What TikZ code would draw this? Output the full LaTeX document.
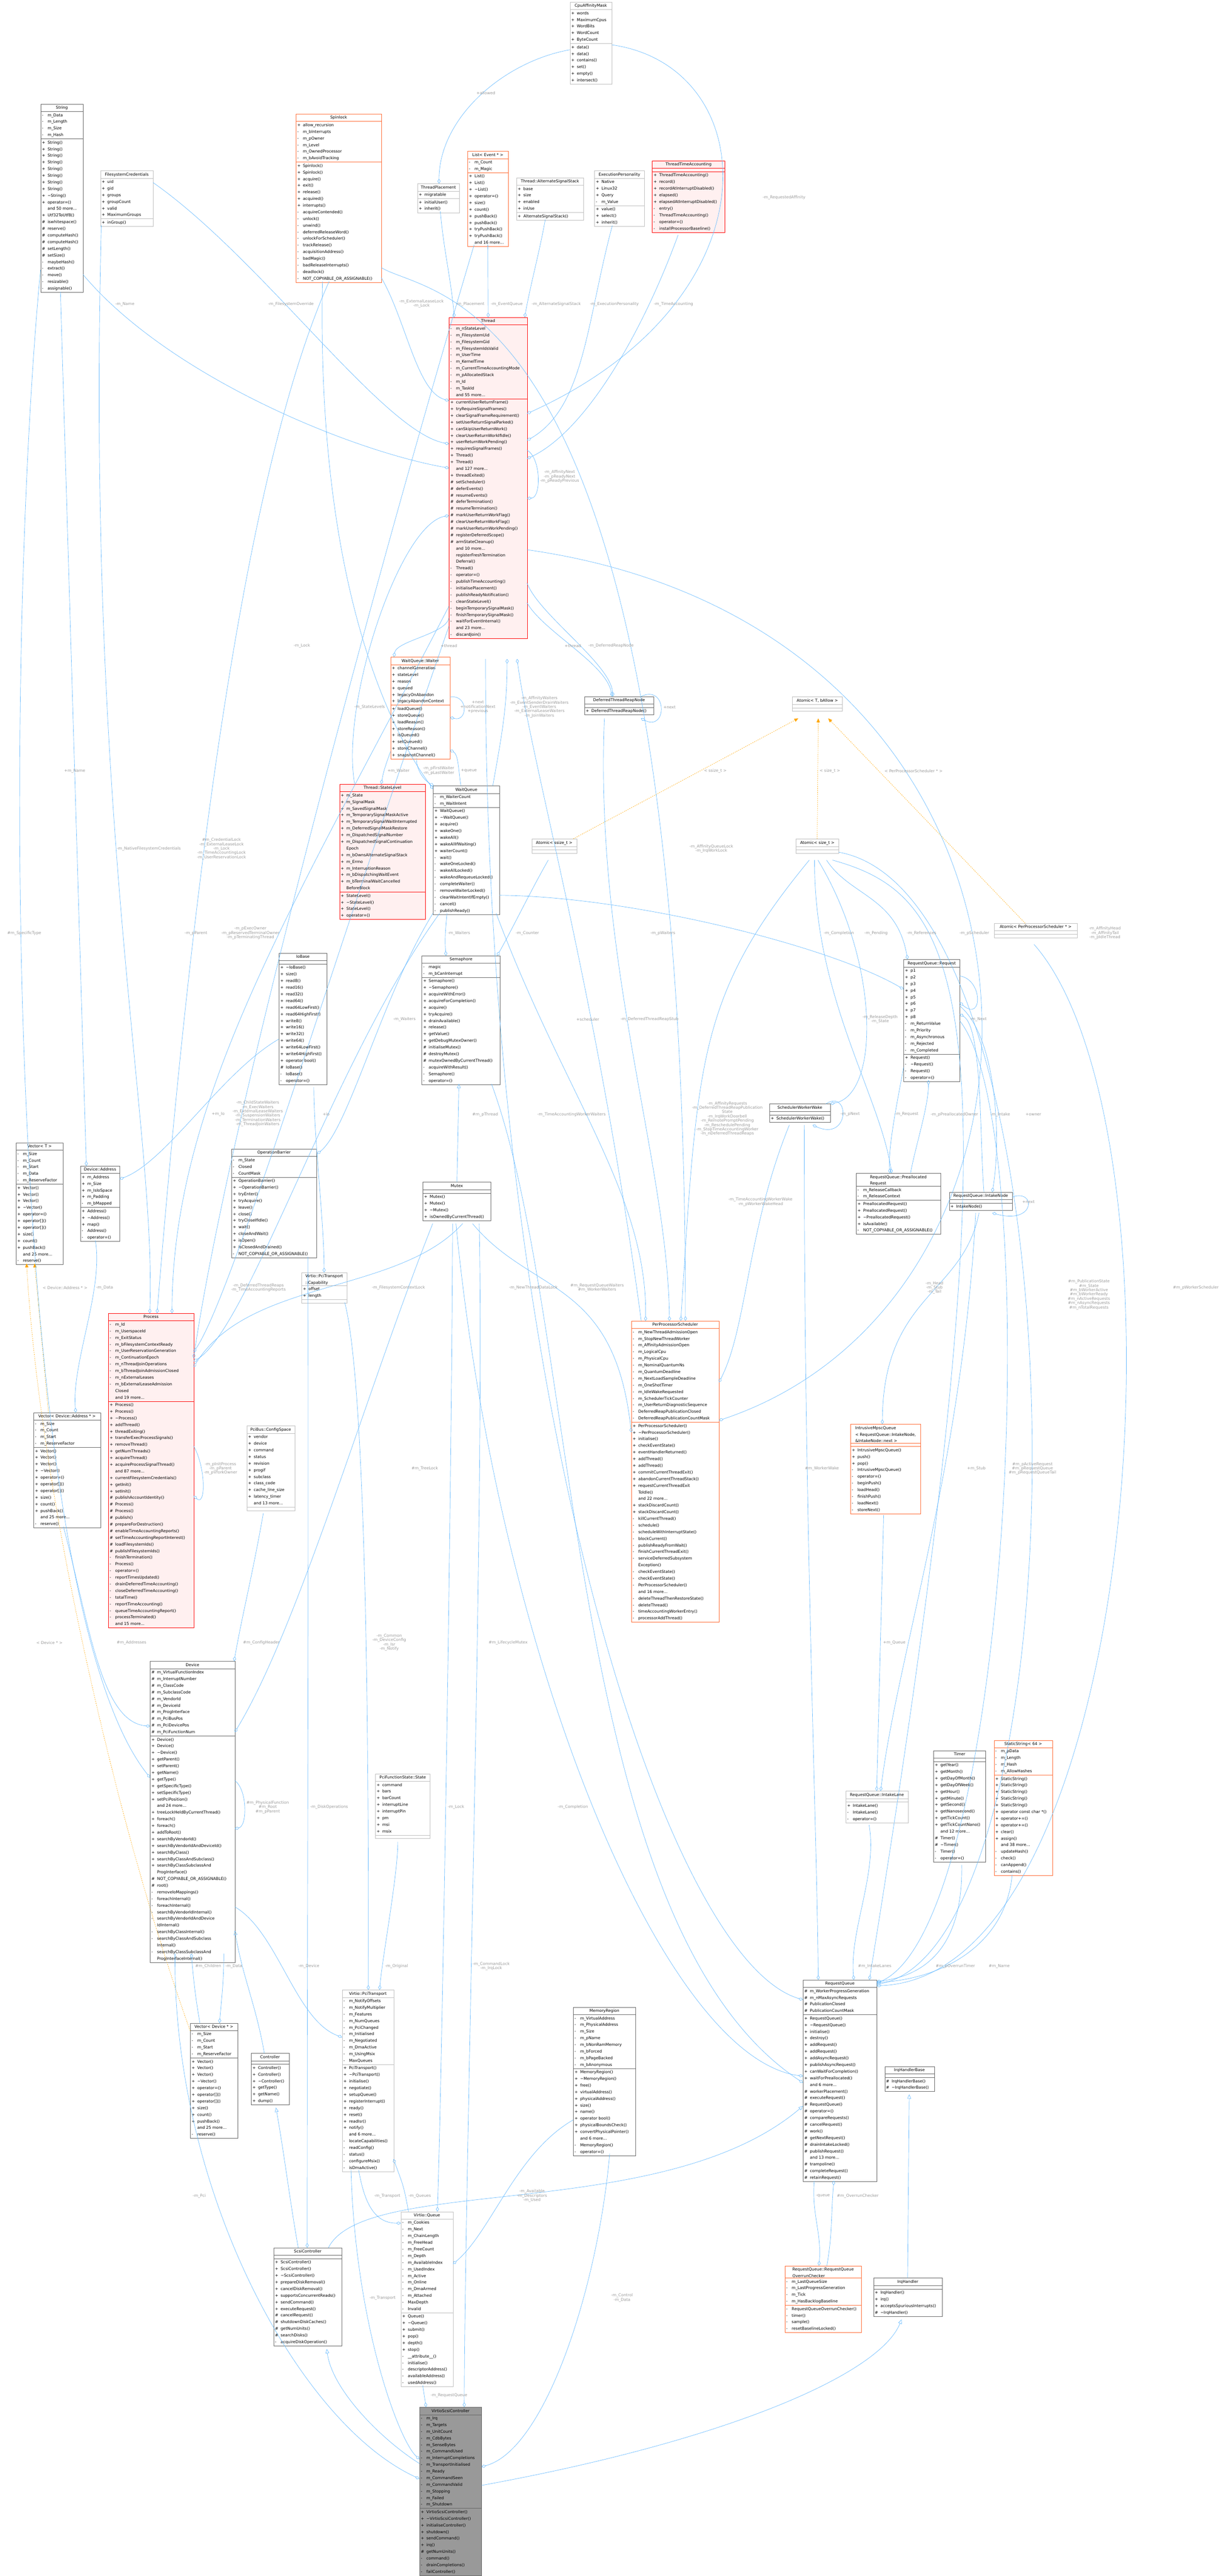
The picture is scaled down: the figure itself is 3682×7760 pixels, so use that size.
\documentclass[tikz,border=0pt]{standalone}
\usepackage{fontspec}
\setmainfont{DejaVu Sans}
\usepackage{tikz}
\usetikzlibrary{shapes.multipart}
\usetikzlibrary{arrows.meta}
\usetikzlibrary{calc}
\definecolor{edgeblue}{HTML}{63B8FF}
\definecolor{tmplorange}{HTML}{FFA500}
\definecolor{lblgray}{HTML}{9A9A9A}
\definecolor{boxgray}{HTML}{666666}
\definecolor{boxlight}{HTML}{BFBFBF}
\definecolor{boxorange}{HTML}{FF6A33}
\definecolor{boxred}{HTML}{FF0000}
\definecolor{boxpink}{HTML}{FFF0F0}
\definecolor{rootgray}{HTML}{999999}
\newcommand{\dxfont}{\fontsize{12}{20}\selectfont}
\newcommand{\lbfont}{\fontsize{12}{13}\selectfont}
\newcommand{\Mp}{\strut\makebox[17pt][l]{+}}
\newcommand{\Mm}{\strut\makebox[17pt][l]{-}}
\newcommand{\Mh}{\strut\makebox[17pt][l]{\#}}
\newcommand{\Mn}{\strut\makebox[17pt][l]{}}
\newcommand{\Me}{\rule{0pt}{8pt}}
\newcommand{\tl}{\textasciitilde}

\begin{document}
\catcode`\_=12
\begin{tikzpicture}
[
x=1pt, y=-1pt,
cls/.style={rectangle split, rectangle split parts=3, draw=boxgray, fill=white,
            anchor=north west, inner xsep=4pt, inner ysep=1pt, font=\dxfont,
            align=left, rectangle split part align={center,left,left}},
cls-light/.style={cls, draw=boxlight},
cls-orange/.style={cls, draw=boxorange},
cls-red/.style={cls, draw=boxred, fill=boxpink},
cls-root/.style={cls, fill=rootgray},
has/.style={draw=edgeblue, line width=1pt, -{Diamond[open,length=14pt,width=9pt]}},
isa/.style={draw=edgeblue, line width=1pt, -{Triangle[open,length=13pt,width=11pt]}},
tmpl/.style={draw=tmplorange, line width=1pt, dashed, -{Triangle[length=12pt,width=10pt]}},
lbl/.style={text=lblgray, font=\lbfont, align=center, inner sep=0pt},
]
\useasboundingbox (0,0) rectangle (3682,7760);

% classes, top band
\node (cpu) [cls-light, minimum width=126pt] at (1716,6) {\strut CpuAffinityMask
  \nodepart{two}\Mp words\\\Mp MaximumCpus\\\Mp WordBits\\\Mp WordCount\\\Mp ByteCount
  \nodepart{three}\Mp data()\\\Mp data()\\\Mp contains()\\\Mp set()\\\Mp empty()\\\Mp intersect()};
\node (string) [cls, minimum width=128pt] at (122,313) {\strut String
  \nodepart{two}\Mm m_Data\\\Mm m_Length\\\Mm m_Size\\\Mm m_Hash
  \nodepart{three}\Mp String()\\\Mp String()\\\Mp String()\\\Mp String()\\\Mp String()\\\Mp String()\\\Mp String()\\\Mp String()\\\Mp \tl String()\\\Mp operator=()\\\Mn and 50 more...\\\Mp Utf32ToUtf8()\\\Mh iswhitespace()\\\Mh reserve()\\\Mh computeHash()\\\Mh computeHash()\\\Mh setLength()\\\Mh setSize()\\\Mm maybeHash()\\\Mm extract()\\\Mm move()\\\Mm resizable()\\\Mm assignable()};
\node (fscred) [cls-light, minimum width=159pt] at (302,514) {\strut FilesystemCredentials
  \nodepart{two}\Mp uid\\\Mp gid\\\Mp groups\\\Mp groupCount\\\Mp valid\\\Mp MaximumGroups
  \nodepart{three}\Mp inGroup()};
\node (spin) [cls-orange, minimum width=257pt] at (891,343) {\strut Spinlock
  \nodepart{two}\Mp allow_recursion\\\Mm m_bInterrupts\\\Mm m_pOwner\\\Mm m_Level\\\Mm m_OwnedProcessor\\\Mm m_bAvoidTracking
  \nodepart{three}\Mp Spinlock()\\\Mp Spinlock()\\\Mp acquire()\\\Mp exit()\\\Mp release()\\\Mp acquired()\\\Mp interrupts()\\\Mm acquireContended()\\\Mm unlock()\\\Mm unwind()\\\Mm deferredReleaseWord()\\\Mm unlockForScheduler()\\\Mm trackRelease()\\\Mm acquisitionAddress()\\\Mm badMagic()\\\Mm badReleaseInterrupts()\\\Mm deadlock()\\\Mm NOT_COPYABLE_OR_ASSIGNABLE()};
\node (place) [cls-light, minimum width=126pt] at (1257,553) {\strut ThreadPlacement
  \nodepart{two}\Mp migratable
  \nodepart{three}\Mp initialUser()\\\Mp inherit()};
\node (listev) [cls-orange, minimum width=122pt] at (1408,455) {\strut List< Event * >
  \nodepart{two}\Mm m_Count\\\Mm m_Magic
  \nodepart{three}\Mp List()\\\Mp List()\\\Mp \tl List()\\\Mp operator=()\\\Mp size()\\\Mp count()\\\Mp pushBack()\\\Mp pushBack()\\\Mp tryPushBack()\\\Mp tryPushBack()\\\Mn and 16 more...};
\node (altstack) [cls-light, minimum width=202pt] at (1555,535) {\strut Thread::AlternateSignalStack
  \nodepart{two}\Mp base\\\Mp size\\\Mp enabled\\\Mp inUse
  \nodepart{three}\Mp AlternateSignalStack()};
\node (execpers) [cls-light, minimum width=150pt] at (1790,514) {\strut ExecutionPersonality
  \nodepart{two}\Mp Native\\\Mp Linux32\\\Mp Query\\\Mm m_Value
  \nodepart{three}\Mp value()\\\Mp select()\\\Mp inherit()};
\node (timeacc) [cls-red, minimum width=218pt] at (1964,484) {\strut ThreadTimeAccounting
  \nodepart{two}\Me
  \nodepart{three}\Mp ThreadTimeAccounting()\\\Mp record()\\\Mp recordAtInterruptDisabled()\\\Mp elapsed()\\\Mp elapsedAtInterruptDisabled()\\\Mm entry()\\\Mm ThreadTimeAccounting()\\\Mm operator=()\\\Mm installProcessorBaseline()};
\node (thread) [cls-red, minimum width=235pt] at (1352,956) {\strut Thread
  \nodepart{two}\Mm m_nStateLevel\\\Mm m_FilesystemUid\\\Mm m_FilesystemGid\\\Mm m_FilesystemIdsValid\\\Mm m_UserTime\\\Mm m_KernelTime\\\Mm m_CurrentTimeAccountingMode\\\Mm m_pAllocatedStack\\\Mm m_Id\\\Mm m_TaskId\\\Mn and 55 more...
  \nodepart{three}\Mp currentUserReturnFrame()\\\Mp tryRequireSignalFrames()\\\Mp clearSignalFrameRequirement()\\\Mp setUserReturnSignalParked()\\\Mp canSkipUserReturnWork()\\\Mp clearUserReturnWorkIfIdle()\\\Mp userReturnWorkPending()\\\Mp requiresSignalFrames()\\\Mp Thread()\\\Mp Thread()\\\Mn and 127 more...\\\Mp threadExited()\\\Mh setScheduler()\\\Mh deferEvents()\\\Mh resumeEvents()\\\Mh deferTermination()\\\Mh resumeTermination()\\\Mh markUserReturnWorkFlag()\\\Mh clearUserReturnWorkFlag()\\\Mh markUserReturnWorkPending()\\\Mh registerDeferredScope()\\\Mh armStateCleanup()\\\Mn and 10 more...\\\Mn registerFreshTermination\\\Mn Deferral()\\\Mm Thread()\\\Mm operator=()\\\Mm publishTimeAccounting()\\\Mm initialisePlacement()\\\Mm publishReadyNotification()\\\Mm cleanStateLevel()\\\Mm beginTemporarySignalMask()\\\Mm finishTemporarySignalMask()\\\Mm waitForEventInternal()\\\Mn and 23 more...\\\Mm discardJoin()};

% classes, second band
\node (waiter) [cls-orange, minimum width=179pt] at (1176,1979) {\strut WaitQueue::Waiter
  \nodepart{two}\Mp channelGeneration\\\Mp stateLevel\\\Mp reason\\\Mp queued\\\Mp legacyOnAbandon\\\Mp legacyAbandonContext
  \nodepart{three}\Mp loadQueue()\\\Mp storeQueue()\\\Mp loadReason()\\\Mp storeReason()\\\Mp isQueued()\\\Mp setQueued()\\\Mp storeChannel()\\\Mp snapshotChannel()};
\node (statelvl) [cls-red, minimum width=259pt] at (1022,2362) {\strut Thread::StateLevel
  \nodepart{two}\Mp m_State\\\Mp m_SignalMask\\\Mp m_SavedSignalMask\\\Mp m_TemporarySignalMaskActive\\\Mp m_TemporarySignalWaitInterrupted\\\Mp m_DeferredSignalMaskRestore\\\Mp m_DispatchedSignalNumber\\\Mp m_DispatchedSignalContinuation\\\Mn Epoch\\\Mp m_bOwnsAlternateSignalStack\\\Mp m_Errno\\\Mp m_InterruptionReason\\\Mp m_bDispatchingWaitEvent\\\Mp m_bTerminalWaitCancelled\\\Mn BeforeBlock
  \nodepart{three}\Mp StateLevel()\\\Mp \tl StateLevel()\\\Mp StateLevel()\\\Mp operator=()};
\node (waitq) [cls, minimum width=200pt] at (1304,2367) {\strut WaitQueue
  \nodepart{two}\Mm m_WaiterCount\\\Mm m_WaitIntent
  \nodepart{three}\Mp WaitQueue()\\\Mp \tl WaitQueue()\\\Mp acquire()\\\Mp wakeOne()\\\Mp wakeAll()\\\Mp wakeAllIfWaiting()\\\Mp waiterCount()\\\Mm wait()\\\Mm wakeOneLocked()\\\Mm wakeAllLocked()\\\Mm wakeAndRequeueLocked()\\\Mm completeWaiter()\\\Mm removeWaiterLocked()\\\Mm clearWaitIntentIfEmpty()\\\Mm cancel()\\\Mm publishReady()};
\node (atomicss) [cls-light, minimum width=135pt] at (1601,2527) {\strut Atomic< ssize_t >
  \nodepart{two}\Me \nodepart{three}\Me};
\node (dtrn) [cls, minimum width=208pt] at (1760,2098) {\strut DeferredThreadReapNode
  \nodepart{two}\Me \nodepart{three}\Mp DeferredThreadReapNode()};
\node (atomict) [cls-light, minimum width=150pt] at (2386,2099) {\strut Atomic< T, bAllow >
  \nodepart{two}\Me \nodepart{three}\Me};
\node (atomicsz) [cls-light, minimum width=128pt] at (2397,2527) {\strut Atomic< size_t >
  \nodepart{two}\Me \nodepart{three}\Me};
\node (atomicpps) [cls-light, minimum width=249pt] at (2994,2781) {\strut Atomic< PerProcessorScheduler * >
  \nodepart{two}\Me \nodepart{three}\Me};
\node (request) [cls, minimum width=169pt] at (2721,2890) {\strut RequestQueue::Request
  \nodepart{two}\Mp p1\\\Mp p2\\\Mp p3\\\Mp p4\\\Mp p5\\\Mp p6\\\Mp p7\\\Mp p8\\\Mm m_ReturnValue\\\Mm m_Priority\\\Mm m_Asynchronous\\\Mm m_Rejected\\\Mm m_Completed
  \nodepart{three}\Mp Request()\\\Mm \tl Request()\\\Mm Request()\\\Mm operator=()};
\node (sww) [cls, minimum width=183pt] at (2317,3325) {\strut SchedulerWorkerWake
  \nodepart{two}\Me \nodepart{three}\Mp SchedulerWorkerWake()};
\node (prealloc) [cls, minimum width=254pt] at (2578,3534) {\strut RequestQueue::Preallocated\\Request
  \nodepart{two}\Mm m_ReleaseCallback\\\Mm m_ReleaseContext
  \nodepart{three}\Mp PreallocatedRequest()\\\Mp PreallocatedRequest()\\\Mp \tl PreallocatedRequest()\\\Mp isAvailable()\\\Mm NOT_COPYABLE_OR_ASSIGNABLE()};
\node (intake) [cls, minimum width=190pt] at (2858,3591) {\strut RequestQueue::IntakeNode
  \nodepart{two}\Me \nodepart{three}\Mp IntakeNode()};
\node (iobase) [cls, minimum width=144pt] at (840,2871) {\strut IoBase
  \nodepart{two}\Me
  \nodepart{three}\Mp \tl IoBase()\\\Mp size()\\\Mp read8()\\\Mp read16()\\\Mp read32()\\\Mp read64()\\\Mp read64LowFirst()\\\Mp read64HighFirst()\\\Mp write8()\\\Mp write16()\\\Mp write32()\\\Mp write64()\\\Mp write64LowFirst()\\\Mp write64HighFirst()\\\Mp operator bool()\\\Mh IoBase()\\\Mm IoBase()\\\Mm operator=()};
\node (sem) [cls, minimum width=236pt] at (1270,2879) {\strut Semaphore
  \nodepart{two}\Mm magic\\\Mm m_bCanInterrupt
  \nodepart{three}\Mp Semaphore()\\\Mp \tl Semaphore()\\\Mp acquireWithError()\\\Mp acquireForCompletion()\\\Mp acquire()\\\Mp tryAcquire()\\\Mp drainAvailable()\\\Mp release()\\\Mp getValue()\\\Mp getDebugMutexOwner()\\\Mh initialiseMutex()\\\Mh destroyMutex()\\\Mh mutexOwnedByCurrentThread()\\\Mm acquireWithResult()\\\Mm Semaphore()\\\Mm operator=()};

% classes, third band
\node (vect) [cls, minimum width=142pt] at (48,3442) {\strut Vector< T >
  \nodepart{two}\Mm m_Size\\\Mm m_Count\\\Mm m_Start\\\Mm m_Data\\\Mm m_ReserveFactor
  \nodepart{three}\Mp Vector()\\\Mp Vector()\\\Mp Vector()\\\Mp \tl Vector()\\\Mp operator=()\\\Mp operator[]()\\\Mp operator[]()\\\Mp size()\\\Mp count()\\\Mp pushBack()\\\Mn and 25 more...\\\Mm reserve()};
\node (devaddr) [cls, minimum width=118pt] at (242,3512) {\strut Device::Address
  \nodepart{two}\Mp m_Address\\\Mp m_Size\\\Mp m_IsIoSpace\\\Mp m_Padding\\\Mm m_bMapped
  \nodepart{three}\Mp Address()\\\Mp \tl Address()\\\Mp map()\\\Mm Address()\\\Mm operator=()};
\node (opbar) [cls, minimum width=256pt] at (697,3461) {\strut OperationBarrier
  \nodepart{two}\Mm m_State\\\Mm Closed\\\Mm CountMask
  \nodepart{three}\Mp OperationBarrier()\\\Mp \tl OperationBarrier()\\\Mp tryEnter()\\\Mp tryAcquire()\\\Mp leave()\\\Mp close()\\\Mp tryCloseIfIdle()\\\Mp wait()\\\Mp closeAndWait()\\\Mp isOpen()\\\Mp isClosedAndDrained()\\\Mm NOT_COPYABLE_OR_ASSIGNABLE()};
\node (mutex) [cls, minimum width=205pt] at (1273,3561) {\strut Mutex
  \nodepart{two}\Me
  \nodepart{three}\Mp Mutex()\\\Mp Mutex()\\\Mp \tl Mutex()\\\Mp isOwnedByCurrentThread()};
\node (cap) [cls-light, minimum width=136pt] at (908,3833) {\strut Virtio::PciTransport\\::Capability
  \nodepart{two}\Mp offset\\\Mp length
  \nodepart{three}\Me};
\node (process) [cls-red, minimum width=257pt] at (326,3956) {\strut Process
  \nodepart{two}\Mm m_Id\\\Mm m_UserspaceId\\\Mm m_ExitStatus\\\Mm m_bFilesystemContextReady\\\Mm m_UserReservationGeneration\\\Mm m_ContinuationEpoch\\\Mm m_nThreadJoinOperations\\\Mm m_bThreadJoinAdmissionClosed\\\Mm m_nExternalLeases\\\Mm m_bExternalLeaseAdmission\\\Mn Closed\\\Mn and 19 more...
  \nodepart{three}\Mp Process()\\\Mp Process()\\\Mp \tl Process()\\\Mp addThread()\\\Mp threadExiting()\\\Mp transferExecProcessSignals()\\\Mp removeThread()\\\Mp getNumThreads()\\\Mp acquireThread()\\\Mp acquireProcessSignalThread()\\\Mn and 87 more...\\\Mp currentFilesystemCredentials()\\\Mp getInit()\\\Mp setInit()\\\Mh publishAccountIdentity()\\\Mh Process()\\\Mh Process()\\\Mh publish()\\\Mh prepareForDestruction()\\\Mh enableTimeAccountingReports()\\\Mh setTimeAccountingReportInterest()\\\Mh loadFilesystemIds()\\\Mh publishFilesystemIds()\\\Mm finishTermination()\\\Mm Process()\\\Mm operator=()\\\Mm reportTimesUpdated()\\\Mm drainDeferredTimeAccounting()\\\Mm closeDeferredTimeAccounting()\\\Mm totalTime()\\\Mm reportTimeAccounting()\\\Mm queueTimeAccountingReport()\\\Mm processTerminated()\\\Mn and 15 more...};
\node (vecaddr) [cls, minimum width=201pt] at (101,4255) {\strut Vector< Device::Address * >
  \nodepart{two}\Mm m_Size\\\Mm m_Count\\\Mm m_Start\\\Mm m_ReserveFactor
  \nodepart{three}\Mp Vector()\\\Mp Vector()\\\Mp Vector()\\\Mp \tl Vector()\\\Mp operator=()\\\Mp operator[]()\\\Mp operator[]()\\\Mp size()\\\Mp count()\\\Mp pushBack()\\\Mn and 25 more...\\\Mm reserve()};
\node (config) [cls-light, minimum width=144pt] at (743,4295) {\strut PciBus::ConfigSpace
  \nodepart{two}\Mp vendor\\\Mp device\\\Mp command\\\Mp status\\\Mp revision\\\Mp progif\\\Mp subclass\\\Mp class_code\\\Mp cache_line_size\\\Mp latency_timer\\\Mn and 13 more...
  \nodepart{three}\Me};
\node (pps) [cls-orange, minimum width=264pt] at (1901,3979) {\strut PerProcessorScheduler
  \nodepart{two}\Mm m_NewThreadAdmissionOpen\\\Mm m_StopNewThreadWorker\\\Mm m_AffinityAdmissionOpen\\\Mm m_LogicalCpu\\\Mm m_PhysicalCpu\\\Mm m_NominalQuantumNs\\\Mm m_QuantumDeadline\\\Mm m_NextLoadSampleDeadline\\\Mm m_OneShotTimer\\\Mm m_IdleWakeRequested\\\Mm m_SchedulerTickCounter\\\Mm m_UserReturnDiagnosticSequence\\\Mm DeferredReapPublicationClosed\\\Mm DeferredReapPublicationCountMask
  \nodepart{three}\Mp PerProcessorScheduler()\\\Mp \tl PerProcessorScheduler()\\\Mp initialise()\\\Mp checkEventState()\\\Mp eventHandlerReturned()\\\Mp addThread()\\\Mp addThread()\\\Mp commitCurrentThreadExit()\\\Mp abandonCurrentThreadStack()\\\Mp requestCurrentThreadExit\\\Mn ToIdle()\\\Mn and 22 more...\\\Mp stackDiscardCount()\\\Mp stackDiscardCount()\\\Mm killCurrentThread()\\\Mm schedule()\\\Mm scheduleWithInterruptState()\\\Mm blockCurrent()\\\Mm publishReadyFromWait()\\\Mm finishCurrentThreadExit()\\\Mm serviceDeferredSubsystem\\\Mn Exception()\\\Mm checkEventState()\\\Mm checkEventState()\\\Mm PerProcessorScheduler()\\\Mn and 16 more...\\\Mm deleteThreadThenRestoreState()\\\Mm deleteThread()\\\Mm timeAccountingWorkerEntry()\\\Mm processorAddThread()};
\node (mpsc) [cls-orange, minimum width=211pt] at (2561,4290) {\strut IntrusiveMpscQueue\\< RequestQueue::IntakeNode,\\ \&IntakeNode::next >
  \nodepart{two}\Me
  \nodepart{three}\Mp IntrusiveMpscQueue()\\\Mp push()\\\Mp pop()\\\Mm IntrusiveMpscQueue()\\\Mm operator=()\\\Mm beginPush()\\\Mm loadHead()\\\Mm finishPush()\\\Mm loadNext()\\\Mm storeNext()};

% classes, fourth band
\node (device) [cls, minimum width=255pt] at (452,5004) {\strut Device
  \nodepart{two}\Mh m_VirtualFunctionIndex\\\Mh m_InterruptNumber\\\Mh m_ClassCode\\\Mh m_SubclassCode\\\Mh m_VendorId\\\Mh m_DeviceId\\\Mh m_ProgInterface\\\Mh m_PciBusPos\\\Mh m_PciDevicePos\\\Mh m_PciFunctionNum
  \nodepart{three}\Mp Device()\\\Mp Device()\\\Mp \tl Device()\\\Mp getParent()\\\Mp setParent()\\\Mp getName()\\\Mp getType()\\\Mp getSpecificType()\\\Mp setSpecificType()\\\Mp setPciPosition()\\\Mn and 24 more...\\\Mp treeLockHeldByCurrentThread()\\\Mp foreach()\\\Mp foreach()\\\Mp addToRoot()\\\Mp searchByVendorId()\\\Mp searchByVendorIdAndDeviceId()\\\Mp searchByClass()\\\Mp searchByClassAndSubclass()\\\Mp searchByClassSubclassAnd\\\Mn ProgInterface()\\\Mh NOT_COPYABLE_OR_ASSIGNABLE()\\\Mh root()\\\Mm removeIoMappings()\\\Mm foreachInternal()\\\Mm foreachInternal()\\\Mm searchByVendorIdInternal()\\\Mm searchByVendorIdAndDevice\\\Mn IdInternal()\\\Mm searchByClassInternal()\\\Mm searchByClassAndSubclass\\\Mn Internal()\\\Mm searchByClassSubclassAnd\\\Mn ProgInterfaceInternal()};
\node (pcistate) [cls-light, minimum width=165pt] at (1130,5343) {\strut PciFunctionState::State
  \nodepart{two}\Mp command\\\Mp bars\\\Mp barCount\\\Mp interruptLine\\\Mp interruptPin\\\Mp pm\\\Mp msi\\\Mp msix
  \nodepart{three}\Me};
\node (lane) [cls-light, minimum width=187pt] at (2547,5395) {\strut RequestQueue::IntakeLane
  \nodepart{two}\Me
  \nodepart{three}\Mp IntakeLane()\\\Mm IntakeLane()\\\Mm operator=()};
\node (timer) [cls, minimum width=157pt] at (2811,5273) {\strut Timer
  \nodepart{two}\Me
  \nodepart{three}\Mp getYear()\\\Mp getMonth()\\\Mp getDayOfMonth()\\\Mp getDayOfWeek()\\\Mp getHour()\\\Mp getMinute()\\\Mp getSecond()\\\Mp getNanosecond()\\\Mp getTickCount()\\\Mp getTickCountNano()\\\Mn and 12 more...\\\Mh Timer()\\\Mh \tl Timer()\\\Mm Timer()\\\Mm operator=()};
\node (sstr) [cls-orange, minimum width=176pt] at (2993,5242) {\strut StaticString< 64 >
  \nodepart{two}\Mm m_pData\\\Mm m_Length\\\Mm m_Hash\\\Mm m_AllowHashes
  \nodepart{three}\Mp StaticString()\\\Mp StaticString()\\\Mp StaticString()\\\Mp StaticString()\\\Mp StaticString()\\\Mp operator const char *()\\\Mp operator+=()\\\Mp operator+=()\\\Mp clear()\\\Mp assign()\\\Mn and 38 more...\\\Mm updateHash()\\\Mm check()\\\Mm canAppend()\\\Mm contains()};
\node (rq) [cls, minimum width=222pt] at (2418,5964) {\strut RequestQueue
  \nodepart{two}\Mh m_WorkerProgressGeneration\\\Mh m_nMaxAsyncRequests\\\Mh PublicationClosed\\\Mh PublicationCountMask
  \nodepart{three}\Mp RequestQueue()\\\Mp \tl RequestQueue()\\\Mp initialise()\\\Mp destroy()\\\Mp addRequest()\\\Mp addRequest()\\\Mp addAsyncRequest()\\\Mp publishAsyncRequest()\\\Mp canWaitForCompletion()\\\Mp waitForPreallocated()\\\Mn and 6 more...\\\Mh workerPlacement()\\\Mh executeRequest()\\\Mh RequestQueue()\\\Mh operator=()\\\Mh compareRequests()\\\Mh cancelRequest()\\\Mh work()\\\Mh getNextRequest()\\\Mh drainIntakeLocked()\\\Mh publishRequest()\\\Mn and 13 more...\\\Mh trampoline()\\\Mh completeRequest()\\\Mh retainRequest()};
\node (memreg) [cls, minimum width=188pt] at (1726,6046) {\strut MemoryRegion
  \nodepart{two}\Mm m_VirtualAddress\\\Mm m_PhysicalAddress\\\Mm m_Size\\\Mm m_pName\\\Mm m_bNonRamMemory\\\Mm m_bForced\\\Mm m_bPageBacked\\\Mm m_bAnonymous
  \nodepart{three}\Mp MemoryRegion()\\\Mp \tl MemoryRegion()\\\Mp free()\\\Mp virtualAddress()\\\Mp physicalAddress()\\\Mp size()\\\Mp name()\\\Mp operator bool()\\\Mp physicalBoundsCheck()\\\Mp convertPhysicalPointer()\\\Mn and 6 more...\\\Mm MemoryRegion()\\\Mm operator=()};
\node (vecdev) [cls, minimum width=142pt] at (573,6094) {\strut Vector< Device * >
  \nodepart{two}\Mm m_Size\\\Mm m_Count\\\Mm m_Start\\\Mm m_ReserveFactor
  \nodepart{three}\Mp Vector()\\\Mp Vector()\\\Mp Vector()\\\Mp \tl Vector()\\\Mp operator=()\\\Mp operator[]()\\\Mp operator[]()\\\Mp size()\\\Mp count()\\\Mp pushBack()\\\Mn and 25 more...\\\Mm reserve()};
\node (controller) [cls, minimum width=114pt] at (756,6185) {\strut Controller
  \nodepart{two}\Me
  \nodepart{three}\Mp Controller()\\\Mp Controller()\\\Mp \tl Controller()\\\Mp getType()\\\Mp getName()\\\Mp dump()};
\node (pt) [cls-light, minimum width=155pt] at (1030,5994) {\strut Virtio::PciTransport
  \nodepart{two}\Mm m_NotifyOffsets\\\Mm m_NotifyMultiplier\\\Mm m_Features\\\Mm m_NumQueues\\\Mm m_PciChanged\\\Mm m_Initialised\\\Mm m_Negotiated\\\Mm m_DmaActive\\\Mm m_UsingMsix\\\Mm MaxQueues
  \nodepart{three}\Mp PciTransport()\\\Mp \tl PciTransport()\\\Mp initialise()\\\Mp negotiate()\\\Mp setupQueue()\\\Mp registerInterrupt()\\\Mp ready()\\\Mp reset()\\\Mp readIsr()\\\Mp notify()\\\Mn and 6 more...\\\Mm locateCapabilities()\\\Mm readConfig()\\\Mm status()\\\Mm configureMsix()\\\Mm isDmaActive()};
\node (irqbase) [cls, minimum width=149pt] at (2664,6225) {\strut IrqHandlerBase
  \nodepart{two}\Me
  \nodepart{three}\Mh IrqHandlerBase()\\\Mh \tl IrqHandlerBase()};
\node (queue) [cls-light, minimum width=157pt] at (1207,6662) {\strut Virtio::Queue
  \nodepart{two}\Mm m_Cookies\\\Mm m_Next\\\Mm m_ChainLength\\\Mm m_FreeHead\\\Mm m_FreeCount\\\Mm m_Depth\\\Mm m_AvailableIndex\\\Mm m_UsedIndex\\\Mm m_Active\\\Mm m_Online\\\Mm m_DmaArmed\\\Mm m_Attached\\\Mm MaxDepth\\\Mm Invalid
  \nodepart{three}\Mp Queue()\\\Mp \tl Queue()\\\Mp submit()\\\Mp pop()\\\Mp depth()\\\Mp stop()\\\Mm __attribute__()\\\Mm initialise()\\\Mm descriptorAddress()\\\Mm availableAddress()\\\Mm usedAddress()};
\node (ovc) [cls-orange, minimum width=231pt] at (2363,6825) {\strut RequestQueue::RequestQueue\\OverrunChecker
  \nodepart{two}\Mm m_LastQueueSize\\\Mm m_LastProgressGeneration\\\Mm m_Tick\\\Mm m_HasBacklogBaseline
  \nodepart{three}\Mm RequestQueueOverrunChecker()\\\Mm timer()\\\Mm sample()\\\Mm resetBaselineLocked()};
\node (irqh) [cls, minimum width=207pt] at (2630,6862) {\strut IrqHandler
  \nodepart{two}\Me
  \nodepart{three}\Mp IrqHandler()\\\Mp irq()\\\Mp acceptsSpuriousInterrupts()\\\Mh \tl IrqHandler()};
\node (scsi) [cls, minimum width=205pt] at (824,6771) {\strut ScsiController
  \nodepart{two}\Me
  \nodepart{three}\Mp ScsiController()\\\Mp ScsiController()\\\Mp \tl ScsiController()\\\Mp prepareDiskRemoval()\\\Mp cancelDiskRemoval()\\\Mp supportsConcurrentReads()\\\Mp sendCommand()\\\Mp executeRequest()\\\Mh cancelRequest()\\\Mh shutdownDiskCaches()\\\Mh getNumUnits()\\\Mh searchDisks()\\\Mm acquireDiskOperation()};
\node (virtio) [cls-root, minimum width=187pt] at (1263,7251) {\strut VirtioScsiController
  \nodepart{two}\Mm m_Irq\\\Mm m_Targets\\\Mm m_UnitCount\\\Mm m_CdbBytes\\\Mm m_SenseBytes\\\Mm m_CommandUsed\\\Mm m_InterruptCompletions\\\Mm m_TransportInitialised\\\Mm m_Ready\\\Mm m_CommandSeen\\\Mm m_CommandValid\\\Mm m_Stopping\\\Mm m_Failed\\\Mm m_Shutdown
  \nodepart{three}\Mp VirtioScsiController()\\\Mp \tl VirtioScsiController()\\\Mp initialiseController()\\\Mp shutdown()\\\Mp sendCommand()\\\Mp irq()\\\Mh getNumUnits()\\\Mm command()\\\Mm drainCompletions()\\\Mm failController()};

% members of Thread
\draw [has] ($(cpu.north west)+(0,144)$) .. controls +(-190:200) and +(-90:200) .. ($(place.north west)+(65,0)$);
\draw [has] ($(cpu.north west)+(126,129)$) .. controls (2300,200) and (2350,900) .. ($(thread.north west)+(235,290)$);
\draw [has] ($(place.north west)+(69,84)$) .. controls +(85:120) and +(-95:120) .. ($(thread.north west)+(16,0)$);
\draw [has] ($(listev.north west)+(61,282)$) -- ($(thread.north west)+(118,0)$);
\draw [has] ($(altstack.north west)+(87,126)$) .. controls +(100:100) and +(-80:100) .. ($(thread.north west)+(228,0)$);
\draw [has] ($(execpers.north west)+(54,165)$) .. controls +(105:300) and +(-30:200) .. ($(thread.north west)+(235,371)$);
\draw [has] ($(timeacc.north west)+(78,224)$) .. controls +(110:300) and +(-25:200) .. ($(thread.north west)+(235,426)$);
\draw [has] ($(spin.north west)+(257,493)$) .. controls +(60:150) and +(-165:100) .. ($(thread.north west)+(0,251)$);
\draw [has] ($(fscred.north west)+(159,36)$) .. controls +(35:400) and +(-170:200) .. ($(thread.north west)+(0,381)$);
\draw [has] ($(string.north west)+(128,514)$) .. controls +(50:400) and +(-170:300) .. ($(thread.north west)+(0,454)$);
\draw [has] ($(thread.north west)+(235,400)$) .. controls (1630,1380) and (1630,1500) .. ($(thread.north west)+(235,545)$);
\draw [has] ($(statelvl.north west)+(46,0)$) .. controls +(-100:250) and +(-190:150) .. ($(thread.north west)+(0,597)$);
\draw [has] ($(waitq.north west)+(180,0)$) .. controls +(-80:150) and +(90:150) .. ($(thread.north west)+(175,1029)$);
\draw [has] ($(pps.north west)+(30,0)$) .. controls (1800,3000) and (1600,2300) .. ($(thread.north west)+(205,1029)$);
% members of the wait structures
\draw [has] ($(thread.north west)+(0,905)$) .. controls +(100:50) and +(-80:50) .. ($(waiter.north west)+(10,0)$);
\draw [has] ($(thread.north west)+(235,860)$) .. controls +(60:100) and +(-100:100) .. ($(dtrn.north west)+(83,0)$);
\draw [has] ($(thread.north west)+(235,800)$) .. controls +(70:100) and +(-95:100) .. ($(dtrn.north west)+(86,0)$);
\draw [has] ($(dtrn.north west)+(170,0)$) .. controls (2010,2060) and (2010,2205) .. ($(dtrn.north west)+(170,66)$);
\draw [has] ($(waiter.north west)+(179,121)$) .. controls (1410,2090) and (1410,2175) .. ($(waiter.north west)+(179,182)$);
\draw [has] ($(waiter.north west)+(0,285)$) .. controls +(110:40) and +(-80:40) .. ($(statelvl.north west)+(126,0)$);
\draw [has] ($(waiter.north west)+(78,305)$) .. controls +(90:40) and +(-150:30) .. ($(waitq.north west)+(2,0)$);
\draw [has] ($(waitq.north west)+(84,0)$) .. controls +(-100:40) and +(30:30) .. ($(waiter.north west)+(179,280)$);
\draw [has] ($(spin.north west)+(80,505)$) .. controls (950,1900) and (1250,2300) .. ($(waitq.north west)+(0,10)$);
\draw [has] ($(waitq.north west)+(42,384)$) .. controls +(95:50) and +(-95:50) .. ($(sem.north west)+(73,0)$);
\draw [has] ($(atomicss.north west)+(50,64)$) .. controls +(120:100) and +(-60:80) .. ($(sem.north west)+(227,0)$);
\draw [isa] ($(mutex.north west)+(103,0)$) -- ($(sem.north west)+(112,386)$);
\draw [has] ($(waitq.north west)+(0,384)$) .. controls (1150,3000) and (1050,3400) .. ($(opbar.north west)+(258,15)$);
\draw [has] ($(waitq.north west)+(200,330)$) .. controls (1900,2700) and (2500,2850) .. ($(request.north west)+(0,90)$);
% templates
\draw [tmpl] ($(atomicss.north west)+(125,0)$) -- ($(atomict.north west)+(18,65)$);
\draw [tmpl] ($(atomicsz.north west)+(64,0)$) -- ($(atomict.north west)+(78,65)$);
\draw [tmpl] ($(atomicpps.north west)+(93,0)$) -- ($(atomict.north west)+(108,65)$);
\draw [tmpl] ($(vecaddr.north west)+(45,0)$) -- ($(vect.north west)+(56,364)$);
\draw [tmpl] ($(vecdev.north west)+(0,24)$) .. controls (350,5500) and (120,4500) .. ($(vect.north west)+(32,364)$);
% request queue members
\draw [has] ($(atomicsz.north west)+(92,64)$) .. controls (2560,2700) and (2700,2700) .. ($(request.north west)+(12,0)$);
\draw [has] ($(atomicsz.north west)+(66,64)$) .. controls (2650,2900) and (2650,3300) .. ($(sww.north west)+(183,0)$);
\draw [has] ($(atomicsz.north west)+(56,64)$) .. controls (2450,3000) and (2650,3300) .. ($(prealloc.north west)+(107,0)$);
\draw [has] ($(atomicsz.north west)+(40,64)$) .. controls (2100,3000) and (2100,3200) .. ($(pps.north west)+(149,0)$);
\draw [has] ($(atomicsz.north west)+(110,64)$) .. controls (2900,2700) and (3100,3000) .. ($(rq.north west)+(200,0)$);
\draw [has] ($(request.north west)+(169,50)$) .. controls (2960,2950) and (2960,3080) .. ($(request.north west)+(169,130)$);
\draw [has] ($(request.north west)+(0,325)$) .. controls +(100:80) and +(-95:80) .. ($(prealloc.north west)+(102,0)$);
\draw [has] ($(prealloc.north west)+(164,0)$) .. controls +(-80:80) and +(90:80) .. ($(request.north west)+(75,364)$);
\draw [has] ($(request.north west)+(169,140)$) .. controls +(40:150) and +(-80:150) .. ($(intake.north west)+(130,0)$);
\draw [has] ($(intake.north west)+(105,0)$) .. controls +(-95:150) and +(30:80) .. ($(request.north west)+(169,165)$);
\draw [has] ($(intake.north west)+(190,15)$) .. controls (3120,3580) and (3120,3690) .. ($(intake.north west)+(130,63)$);
\draw [has] ($(sww.north west)+(170,0)$) .. controls (2560,3280) and (2560,3440) .. ($(sww.north west)+(130,64)$);
\draw [has] ($(request.north west)+(169,185)$) .. controls (3150,3400) and (3050,5800) .. ($(rq.north west)+(222,10)$);
\draw [has] ($(atomicsz.north west)+(128,40)$) .. controls (3280,2700) and (3280,5850) .. ($(rq.north west)+(222,14)$);
\draw [has] ($(atomicpps.north west)+(120,64)$) .. controls (3600,3400) and (3450,5950) .. ($(rq.north west)+(222,18)$);
\draw [has] ($(thread.north west)+(235,700)$) .. controls (3300,1900) and (3300,3900) .. ($(pps.north west)+(264,300)$);
\draw [has] ($(sww.north west)+(60,64)$) .. controls (2250,3700) and (2250,4000) .. ($(pps.north west)+(264,185)$);
\draw [has] ($(sww.north west)+(105,64)$) .. controls (2420,4500) and (2460,5500) .. ($(rq.north west)+(46,0)$);
\draw [has] ($(dtrn.north west)+(60,66)$) .. controls (1790,2900) and (2010,3500) .. ($(pps.north west)+(115,0)$);
\draw [has] ($(spin.north west)+(257,463)$) .. controls (1300,900) and (2064,850) .. ($(pps.north west)+(163,0)$);
\draw [has] ($(waitq.north west)+(190,384)$) .. controls (1700,3300) and (1950,3600) .. ($(pps.north west)+(43,0)$);
\draw [has] ($(thread.north west)+(110,1029)$) .. controls (1460,4200) and (2000,5900) .. ($(rq.north west)+(0,60)$);
\draw [has] ($(mpsc.north west)+(100,274)$) -- ($(lane.north west)+(93,0)$);
\draw [has] ($(intake.north west)+(90,63)$) .. controls (2900,3900) and (2660,3900) .. ($(mpsc.north west)+(96,0)$);
\draw [has] ($(intake.north west)+(80,63)$) .. controls (2900,4400) and (2700,5000) .. ($(lane.north west)+(105,0)$);
\draw [has] ($(lane.north west)+(70,102)$) .. controls +(80:150) and +(-95:150) .. ($(rq.north west)+(153,0)$);
\draw [has] ($(timer.north west)+(85,345)$) .. controls (2900,5850) and (2800,5950) .. ($(rq.north west)+(222,5)$);
\draw [has] ($(sstr.north west)+(55,405)$) .. controls (3030,5850) and (2850,5960) .. ($(rq.north west)+(222,8)$);
\draw [has] ($(rq.north west)+(34,605)$) .. controls +(95:100) and +(-85:100) .. ($(ovc.north west)+(103,0)$);
\draw [has] ($(ovc.north west)+(127,0)$) .. controls +(-80:100) and +(95:100) .. ($(rq.north west)+(93,605)$);
% process and device members
\draw [has] ($(fscred.north west)+(3,165)$) .. controls (260,2500) and (470,3400) .. ($(process.north west)+(125,0)$);
\draw [has] ($(spin.north west)+(100,505)$) .. controls (700,1500) and (550,3000) .. ($(process.north west)+(147,0)$);
\draw [has] ($(thread.north west)+(0,870)$) .. controls (900,2700) and (520,3300) .. ($(process.north west)+(192,0)$);
\draw [has] ($(thread.north west)+(0,930)$) .. controls (1000,2900) and (700,3900) .. ($(process.north west)+(257,117)$);
\draw [has] ($(waitq.north west)+(20,384)$) .. controls (1000,3200) and (750,4000) .. ($(process.north west)+(257,145)$);
\draw [has] ($(mutex.north west)+(120,125)$) .. controls (1200,3900) and (750,3850) .. ($(process.north west)+(257,162)$);
\draw [has] ($(process.north west)+(257,400)$) .. controls (620,4420) and (620,4540) .. ($(process.north west)+(257,550)$);
\draw [has] ($(string.north west)+(60,566)$) -- ($(devaddr.north west)+(18,0)$);
\draw [has] ($(string.north west)+(0,500)$) .. controls (10,2000) and (10,4800) .. ($(device.north west)+(0,351)$);
\draw [has] ($(iobase.north west)+(0,259)$) .. controls +(-210:200) and +(-20:150) .. ($(devaddr.north west)+(118,40)$);
\draw [has] ($(iobase.north west)+(105,404)$) .. controls +(90:150) and +(-90:150) .. ($(cap.north west)+(68,0)$);
\draw [has] ($(devaddr.north west)+(45,224)$) .. controls +(80:150) and +(-95:150) .. ($(vecaddr.north west)+(127,0)$);
\draw [has] ($(vecaddr.north west)+(90,344)$) .. controls +(75:300) and +(-175:150) .. ($(device.north west)+(0,196)$);
\draw [has] ($(config.north west)+(50,263)$) .. controls +(100:200) and +(-80:150) .. ($(device.north west)+(253,0)$);
\draw [has] ($(device.north west)+(255,360)$) .. controls (745,5390) and (745,5500) .. ($(device.north west)+(255,505)$);
\draw [has] ($(mutex.north west)+(30,125)$) .. controls (1100,4200) and (900,4900) .. ($(device.north west)+(255,214)$);
\draw [has] ($(vecdev.north west)+(29,0)$) .. controls +(-100:80) and +(85:80) .. ($(device.north west)+(124,881)$);
\draw [has] ($(device.north west)+(222,881)$) .. controls +(90:80) and +(-85:80) .. ($(vecdev.north west)+(88,0)$);
\draw [isa] ($(controller.north west)+(40,0)$) .. controls +(-100:150) and +(80:150) .. ($(device.north west)+(255,812)$);
\draw [isa] ($(scsi.north west)+(74,0)$) .. controls +(-100:150) and +(80:150) .. ($(controller.north west)+(75,164)$);
\draw [has] ($(opbar.north west)+(230,325)$) .. controls (930,4500) and (925,6000) .. ($(scsi.north west)+(101,0)$);
% virtio members
\draw [has] ($(device.north west)+(255,740)$) .. controls +(30:150) and +(-160:150) .. ($(pt.north west)+(0,143)$);
\draw [has] ($(cap.north west)+(130,90)$) .. controls (1110,4200) and (1110,5500) .. ($(pt.north west)+(79,0)$);
\draw [has] ($(pcistate.north west)+(68,205)$) .. controls +(90:100) and +(-85:100) .. ($(pt.north west)+(113,0)$);
\draw [has] ($(pt.north west)+(50,543)$) .. controls +(80:100) and +(-180:80) .. ($(queue.north west)+(0,35)$);
\draw [has] ($(queue.north west)+(23,0)$) .. controls +(-100:80) and +(70:80) .. ($(pt.north west)+(155,510)$);
\draw [has] ($(pt.north west)+(27,543)$) .. controls (1070,7000) and (1200,7350) .. ($(virtio.north west)+(0,157)$);
\draw [has] ($(queue.north west)+(66,524)$) -- ($(virtio.north west)+(20,0)$);
\draw [has] ($(memreg.north west)+(0,340)$) .. controls +(-210:200) and +(-40:150) .. ($(queue.north west)+(157,158)$);
\draw [has] ($(memreg.north west)+(110,442)$) .. controls +(95:400) and +(-15:200) .. ($(virtio.north west)+(187,180)$);
\draw [has] ($(device.north west)+(75,881)$) .. controls (520,6600) and (900,7300) .. ($(virtio.north west)+(0,216)$);
\draw [has] ($(mutex.north west)+(170,125)$) .. controls (1460,4500) and (1400,6500) .. ($(virtio.north west)+(135,0)$);
\draw [has] ($(mutex.north west)+(90,125)$) .. controls (1360,4500) and (1330,6300) .. ($(queue.north west)+(110,0)$);
\draw [has] ($(mutex.north west)+(150,125)$) .. controls (1600,3900) and (1850,3850) .. ($(pps.north west)+(0,336)$);
\draw [has] ($(mutex.north west)+(100,125)$) .. controls (1500,5000) and (2000,6200) .. ($(rq.north west)+(0,290)$);
\draw [has] ($(sem.north west)+(210,386)$) .. controls (1750,4000) and (1700,5800) .. ($(rq.north west)+(0,310)$);
\draw [has] ($(listev.north west)+(20,282)$) .. controls (1200,1500) and (700,3300) .. ($(process.north west)+(257,135)$);
\draw [isa] ($(scsi.north west)+(165,0)$) .. controls (1100,6550) and (2000,6700) .. ($(rq.north west)+(0,380)$);
\draw [isa] ($(irqh.north west)+(103,0)$) -- ($(irqbase.north west)+(74,84)$);
\draw [isa] ($(virtio.north west)+(187,236)$) .. controls (2200,7350) and (2650,7150) .. ($(irqh.north west)+(85,125)$);
\draw [isa] ($(virtio.north west)+(0,170)$) .. controls (1150,7350) and (1000,7200) .. ($(scsi.north west)+(160,305)$);

% connector labels
\node (l01) [lbl] at (1463,280) {+allowed};
\node (l02) [lbl] at (2361,595) {-m_RequestedAffinity};
\node (l03) [lbl] at (376,916) {-m_Name};
\node (l04) [lbl] at (876,916) {-m_FilesystemOverride};
\node (l05) [lbl] at (1269,915) {-m_ExternalLeaseLock\\-m_Lock};
\node (l06) [lbl] at (1416,916) {-m_Placement};
\node (l07) [lbl] at (1526,916) {-m_EventQueue};
\node (l08) [lbl] at (1675,916) {-m_AlternateSignalStack};
\node (l09) [lbl] at (1850,916) {-m_ExecutionPersonality};
\node (l10) [lbl] at (2028,916) {-m_TimeAccounting};
\node (l11) [lbl] at (1685,1436) {-m_AffinityNext\\-m_pReadyNext\\-m_pReadyPrevious};
\node (l12) [lbl] at (909,1946) {-m_Lock};
\node (l13) [lbl] at (1352,1946) {+thread};
\node (l14) [lbl] at (1725,1946) {+thread};
\node (l15) [lbl] at (1840,1946) {-m_DeferredReapNode};
\node (l16) [lbl] at (1113,2130) {-m_StateLevels};
\node (l17) [lbl] at (1439,2130) {+next\\+notificationNext\\+previous};
\node (l18) [lbl] at (1624,2130) {-m_AffinityWaiters\\-m_EventSenderDrainWaiters\\-m_EventWaiters\\-m_ExternalLeaseWaiters\\-m_JoinWaiters};
\node (l19) [lbl] at (2016,2130) {+next};
\node (l20) [lbl] at (1200,2322) {+m_Waiter};
\node (l21) [lbl] at (1321,2322) {-m_pFirstWaiter\\-m_pLastWaiter};
\node (l22) [lbl] at (1412,2322) {+queue};
\node (l23) [lbl] at (225,2322) {+m_Name};
\node (l24) [lbl] at (2154,2322) {< ssize_t >};
\node (l25) [lbl] at (2499,2322) {< size_t >};
\node (l26) [lbl] at (2751,2322) {< PerProcessorScheduler * >};
\node (l27) [lbl] at (448,2557) {-m_NativeFilesystemCredentials};
\node (l28) [lbl] at (667,2557) {\#m_CredentialLock\\-m_ExternalLeaseLock\\-m_Lock\\-m_TimeAccountingLock\\-m_UserReservationLock};
\node (l29) [lbl] at (2142,2557) {-m_AffinityQueueLock\\-m_IrqWorkLock};
\node (l30) [lbl] at (73,2811) {\#m_SpecificType};
\node (l31) [lbl] at (590,2811) {-m_pParent};
\node (l32) [lbl] at (754,2811) {-m_pExecOwner\\-m_pReservedTerminalOwner\\-m_pTerminatingThread};
\node (l33) [lbl] at (1382,2811) {-m_Waiters};
\node (l34) [lbl] at (1588,2811) {-m_Counter};
\node (l35) [lbl] at (1996,2811) {-m_pWaiters};
\node (l36) [lbl] at (2526,2811) {-m_Completion};
\node (l37) [lbl] at (2638,2811) {-m_Pending};
\node (l38) [lbl] at (2775,2811) {-m_References};
\node (l39) [lbl] at (2934,2811) {-m_pScheduler};
\node (l40) [lbl] at (3327,2811) {-m_AffinityHead\\-m_AffinityTail\\-m_pIdleThread};
\node (l41) [lbl] at (1218,3071) {-m_Waiters};
\node (l42) [lbl] at (1770,3071) {+scheduler};
\node (l43) [lbl] at (1956,3071) {-m_DeferredThreadReapStub};
\node (l44) [lbl] at (2650,3071) {-m_ReleaseDepth\\-m_State};
\node (l45) [lbl] at (2946,3071) {-m_Next};
\node (l46) [lbl] at (776,3355) {-m_ChildStateWaiters\\-m_ExecWaiters\\-m_ExternalLeaseWaiters\\-m_SuspensionWaiters\\-m_TerminationWaiters\\-m_ThreadJoinWaiters};
\node (l47) [lbl] at (657,3357) {+m_Io};
\node (l48) [lbl] at (982,3357) {+io};
\node (l49) [lbl] at (1461,3357) {\#m_pThread};
\node (l50) [lbl] at (1721,3357) {-m_TimeAccountingWorkerWaiters};
\node (l51) [lbl] at (2190,3370) {-m_AffinityRequests\\-m_DeferredThreadReapPublication\\State\\-m_IrqWorkDoorbell\\-m_RemotePromptPending\\-m_ReschedulePending\\-m_StopTimeAccountingWorker\\-m_nDeferredThreadReaps};
\node (l52) [lbl] at (2560,3357) {-m_pNext};
\node (l53) [lbl] at (2730,3357) {-m_Request};
\node (l54) [lbl] at (2874,3357) {-m_pPreallocatedOwner};
\node (l55) [lbl] at (3012,3357) {-m_Intake};
\node (l56) [lbl] at (3112,3357) {+owner};
\node (l57) [lbl] at (2290,3621) {-m_TimeAccountingWorkerWake\\-m_pWorkerWakeHead};
\node (l58) [lbl] at (3097,3621) {+next};
\node (l59) [lbl] at (196,3879) {< Device::Address * >};
\node (l60) [lbl] at (315,3879) {-m_Data};
\node (l61) [lbl] at (778,3879) {-m_DeferredThreadReaps\\-m_TimeAccountingReports};
\node (l62) [lbl] at (1200,3879) {-m_FilesystemContextLock};
\node (l63) [lbl] at (1606,3879) {-m_NewThreadDataLock};
\node (l64) [lbl] at (1798,3879) {\#m_RequestQueueWaiters\\\#m_WorkerWaiters};
\node (l65) [lbl] at (2814,3879) {-m_Head\\-m_Stub\\-m_Tail};
\node (l66) [lbl] at (3279,3900) {\#m_PublicationState\\\#m_State\\\#m_bWorkerActive\\\#m_bWorkerReady\\\#m_nActiveRequests\\\#m_nAsyncRequests\\\#m_nTotalRequests};
\node (l67) [lbl] at (3601,3879) {\#m_pWorkerScheduler};
\node (l68) [lbl] at (664,4424) {-m_pInitProcess\\-m_pParent\\-m_pVforkOwner};
\node (l69) [lbl] at (1279,4424) {\#m_TreeLock};
\node (l70) [lbl] at (2475,4424) {\#m_WorkerWake};
\node (l71) [lbl] at (2940,4424) {+m_Stub};
\node (l72) [lbl] at (3109,4424) {\#m_pActiveRequest\\\#m_pRequestQueue\\\#m_pRequestQueueTail};
\node (l73) [lbl] at (149,4948) {< Device * >};
\node (l74) [lbl] at (396,4948) {\#m_Addresses};
\node (l75) [lbl] at (787,4948) {\#m_ConfigHeader};
\node (l76) [lbl] at (1172,4948) {-m_Common\\-m_DeviceConfig\\-m_Isr\\-m_Notify};
\node (l77) [lbl] at (1530,4948) {\#m_LifecycleMutex};
\node (l78) [lbl] at (2693,4948) {+m_Queue};
\node (l79) [lbl] at (806,5444) {\#m_PhysicalFunction\\\#m_Root\\\#m_pParent};
\node (l80) [lbl] at (991,5444) {-m_DiskOperations};
\node (l81) [lbl] at (1373,5444) {-m_Lock};
\node (l82) [lbl] at (1725,5444) {-m_Completion};
\node (l83) [lbl] at (627,5923) {\#m_Children};
\node (l84) [lbl] at (704,5923) {-m_Data};
\node (l85) [lbl] at (930,5923) {-m_Device};
\node (l86) [lbl] at (1194,5923) {-m_Original};
\node (l87) [lbl] at (1479,5923) {-m_CommandLock\\-m_IrqLock};
\node (l88) [lbl] at (2634,5923) {\#m_IntakeLanes};
\node (l89) [lbl] at (2877,5923) {\#m_pOverrunTimer};
\node (l90) [lbl] at (3009,5923) {\#m_Name};
\node (l91) [lbl] at (600,6615) {-m_Pci};
\node (l92) [lbl] at (1166,6615) {-m_Transport};
\node (l93) [lbl] at (1264,6615) {-m_Queues};
\node (l94) [lbl] at (1602,6615) {-m_Available\\-m_Descriptors\\-m_Used};
\node (l95) [lbl] at (2478,6615) {-queue};
\node (l96) [lbl] at (2583,6615) {\#m_OverrunChecker};
\node (l97) [lbl] at (1152,6922) {-m_Transport};
\node (l98) [lbl] at (1873,6922) {-m_Control\\-m_Data};
\node (l99) [lbl] at (1352,7216) {-m_RequestQueue};
\end{tikzpicture}
\end{document}
